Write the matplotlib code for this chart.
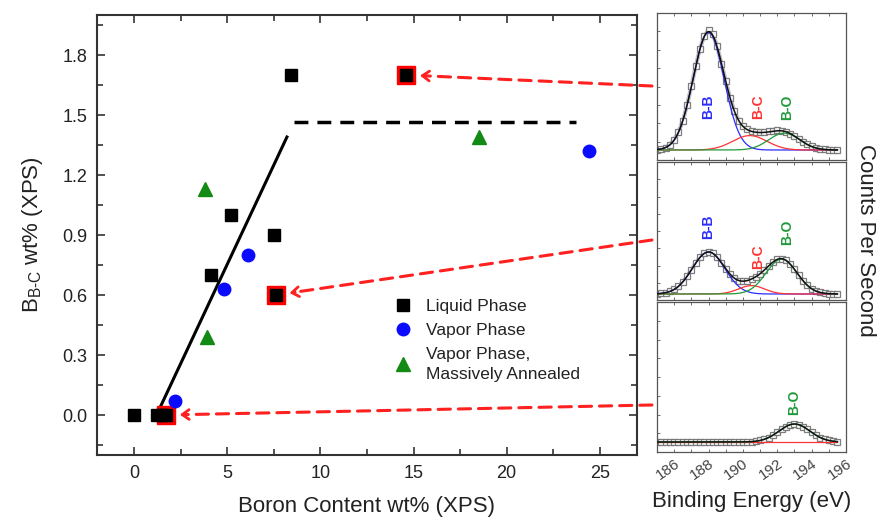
import numpy as np
import matplotlib
matplotlib.use("Agg")
import matplotlib.pyplot as plt
from matplotlib.ticker import MultipleLocator

plt.rcParams['font.family'] = ['Liberation Sans', 'DejaVu Sans']
plt.rcParams['mathtext.fontset'] = 'custom'
plt.rcParams['mathtext.rm'] = 'Liberation Sans'
plt.rcParams['mathtext.it'] = 'Liberation Sans'
plt.rcParams['mathtext.default'] = 'regular'

# ---------------- main scatter data ----------------
liquid_x = [0.0, 1.2, 1.5, 4.1, 5.2, 7.5, 8.4]
liquid_y = [0.0, 0.0, 0.0, 0.70, 1.00, 0.90, 1.70]
highlight_x = [1.7, 7.6, 14.6]
highlight_y = [0.0, 0.60, 1.70]
vapor_x = [2.2, 4.8, 6.1, 24.4]
vapor_y = [0.07, 0.63, 0.80, 1.32]
annealed_x = [3.8, 3.9, 18.5]
annealed_y = [1.13, 0.39, 1.39]
fit_x = [1.35, 8.2]
fit_y = [0.03, 1.39]
plateau_x = [8.6, 23.7]
plateau_y = [1.465, 1.465]
xticks_main = [0, 5, 10, 15, 20, 25]
yticks_main = [0.0, 0.3, 0.6, 0.9, 1.2, 1.5, 1.8]

# ---------------- XPS spectra ----------------
energy = np.arange(185.0, 195.51, 0.25)
spec_top = [0.004, 0.010, 0.020, 0.045, 0.085, 0.150, 0.240, 0.375, 0.530, 0.700,
            0.845, 0.950, 1.000, 0.965, 0.865, 0.720, 0.575, 0.435, 0.325, 0.245,
            0.200, 0.172, 0.158, 0.150, 0.148, 0.150, 0.155, 0.160, 0.163, 0.160,
            0.150, 0.136, 0.115, 0.090, 0.066, 0.046, 0.030, 0.018, 0.010, 0.006,
            0.003, 0.001, 0.0]
spec_mid = [0.002, 0.005, 0.011, 0.021, 0.038, 0.064, 0.101, 0.147, 0.201, 0.256,
            0.305, 0.338, 0.350, 0.338, 0.307, 0.261, 0.210, 0.165, 0.133, 0.112,
            0.107, 0.112, 0.125, 0.143, 0.169, 0.199, 0.234, 0.266, 0.288, 0.295,
            0.281, 0.250, 0.205, 0.156, 0.111, 0.072, 0.044, 0.025, 0.013, 0.006,
            0.003, 0.001, 0.0]
spec_bot = [0.0] * 21 + [0.001, 0.003, 0.007, 0.013, 0.023, 0.037, 0.057, 0.081,
                         0.106, 0.129, 0.144, 0.150, 0.144, 0.129, 0.106, 0.081,
                         0.057, 0.037, 0.023, 0.013, 0.007, 0.003]
# fitted peak components: (centre eV, height, sigma)
peaks_top = {'B-B': (188.0, 0.98, 0.9), 'B-C': (190.4, 0.12, 1.0), 'B-O': (192.4, 0.14, 0.9)}
peaks_mid = {'B-B': (188.0, 0.35, 0.95), 'B-C': (190.5, 0.07, 0.75), 'B-O': (192.25, 0.29, 0.9)}
peaks_bot = {'B-C': (190.5, 0.0, 0.9), 'B-O': (193.0, 0.15, 0.9)}
# peak label positions: (energy, axes-fraction height)
labels_top = {'B-B': (188.0, 0.36), 'B-C': (190.9, 0.36), 'B-O': (192.6, 0.36)}
labels_mid = {'B-B': (188.0, 0.53), 'B-C': (190.9, 0.31), 'B-O': (192.6, 0.49)}
labels_bot = {'B-O': (193.0, 0.33)}
be_ticks = [186, 188, 190, 192, 194, 196]

comp_colors = {'B-B': '#2b2bff', 'B-C': '#ff3333', 'B-O': '#1f9a3a'}

W, H = 881, 523
fig = plt.figure(figsize=(W / 100, H / 100), dpi=100)

def fr(x0, y0, x1, y1):
    return [x0 / W, 1 - y1 / H, (x1 - x0) / W, (y1 - y0) / H]

ax = fig.add_axes(fr(97, 15, 637, 455))
txt = '#222222'

ax.plot(fit_x, fit_y, color='black', lw=2.2)
ax.plot(plateau_x, plateau_y, color='black', lw=2.5, dashes=(4, 2.6))
ax.plot(highlight_x, highlight_y, 's', ms=12.5, mfc='red', mec='red', zorder=4)
ax.plot(liquid_x, liquid_y, 's', ms=8, color='black', zorder=5, label='Liquid Phase')
ax.plot(highlight_x, highlight_y, 's', ms=8, color='black', zorder=5)
ax.plot(vapor_x, vapor_y, 'o', ms=9, color='#0a0aff', zorder=5, label='Vapor Phase')
ax.plot(annealed_x, annealed_y, '^', ms=10, color='#138a13', zorder=5,
        label='Vapor Phase,\nMassively Annealed')

ax.set_xlim(-2, 27)
ax.set_ylim(-0.2, 2.0)
ax.set_xticks(xticks_main)
ax.set_yticks(yticks_main)
ax.set_yticklabels([f'{v:.1f}' for v in yticks_main])
ax.xaxis.set_minor_locator(MultipleLocator(2.5))
ax.yaxis.set_minor_locator(MultipleLocator(0.15))
ax.tick_params(which='both', direction='in', top=True, right=True, width=1.2,
               labelsize=13, labelcolor=txt, color='#333333')
ax.tick_params(which='major', length=6, pad=7)
ax.tick_params(which='minor', length=4)
for s in ax.spines.values():
    s.set_linewidth(1.5)
    s.set_color('#333333')
ax.set_xlabel('Boron Content wt% (XPS)', fontsize=16, color=txt, labelpad=10)
ax.set_ylabel('B$_{B\\text{-}C}$ wt% (XPS)', fontsize=16, color=txt, labelpad=12)

leg = ax.legend(loc='upper left', bbox_to_anchor=(0.535, 0.37), frameon=False,
                fontsize=12.5, handletextpad=0.7, labelspacing=0.5,
                handlelength=1.2, borderaxespad=0)
for t in leg.get_texts():
    t.set_color(txt)
    t.set_linespacing(1.45)

# ---------------- right panels ----------------
panel_boxes = [(657, 13, 846, 160), (657, 162, 846, 300), (657, 302, 846, 452)]
baselines = [150, 294, 442]
specs = [spec_top, spec_mid, spec_bot]
peak_sets = [peaks_top, peaks_mid, peaks_bot]
label_sets = [labels_top, labels_mid, labels_bot]
fine = np.linspace(185.0, 195.5, 400)
panel_axes = []
for i in range(3):
    x0, y0, x1, y1 = panel_boxes[i]
    pax = fig.add_axes(fr(x0, y0, x1, y1))
    panel_axes.append(pax)
    scale = 120.0
    pax.set_ylim(-(y1 - baselines[i]) / scale, (baselines[i] - y0) / scale)
    pax.set_xlim(185, 196)
    pax.plot(energy, specs[i], color='#9a9a9a', lw=3.0, alpha=0.6, zorder=1)
    pax.plot(energy, specs[i], 's', ms=5, mfc='white', mec='#707070', mew=0.9,
             zorder=2, alpha=0.9)
    env = np.zeros_like(fine)
    for name, (c, a, s) in peak_sets[i].items():
        comp = a * np.exp(-(fine - c) ** 2 / (2 * s * s))
        env += comp
        pax.plot(fine, comp, color=comp_colors[name], lw=0.9, zorder=3)
    pax.plot(fine, env, color='#111111', lw=1.1, zorder=4)
    for name, (ex, fy) in label_sets[i].items():
        pax.text(ex, fy, name, transform=pax.get_xaxis_transform(), rotation=90,
                 ha='center', va='center', fontsize=10, fontweight='bold',
                 color=comp_colors[name])
    pax.set_yticks(np.linspace(pax.get_ylim()[0], pax.get_ylim()[1], 9)[1:-1])
    pax.set_yticklabels([])
    pax.set_xticks(be_ticks)
    pax.xaxis.set_minor_locator(MultipleLocator(1))
    pax.tick_params(which='both', direction='in', length=2.5, width=0.6,
                    color='#555555', top=True, right=False, labelsize=11,
                    labelcolor='#444444')
    for s in pax.spines.values():
        s.set_linewidth(0.9)
        s.set_color('#555555')
    if i < 2:
        pax.set_xticklabels([])
    else:
        for lab in pax.get_xticklabels():
            lab.set_rotation(35)
            lab.set_ha('right')
            lab.set_va('top')
            lab.set_rotation_mode('anchor')
        pax.set_xlabel('Binding Energy (eV)', fontsize=16, color=txt, labelpad=6)

fig.text(866 / W, 1 - 240 / H, 'Counts Per Second', rotation=270, fontsize=16,
         color=txt, ha='center', va='center')

# ---------------- red dashed arrows ----------------
arrow_starts = [(652, 86), (652, 240), (652, 405)]
head_offsets = [(14, -0.6), (14, 2.0), (14, 0.3)]
for (mx, my), (sx, sy), off in zip(zip(highlight_x[::-1], highlight_y[::-1]), arrow_starts,
                                   head_offsets):
    ax.annotate('', xy=(mx, my), xycoords='data', xytext=(sx, H - sy),
                textcoords='figure pixels', annotation_clip=False,
                arrowprops=dict(arrowstyle='-', color='#ff2020', lw=2.2,
                                linestyle=(0, (4, 2.6)), shrinkA=0, shrinkB=13))
    ax.annotate('', xy=(mx, my), xycoords='data', xytext=off,
                textcoords='offset points', annotation_clip=False,
                arrowprops=dict(arrowstyle='->,head_length=0.5,head_width=0.35',
                                color='#ff2020', lw=2.0, shrinkA=0, shrinkB=10))

fig.savefig('out.png', dpi=100)
